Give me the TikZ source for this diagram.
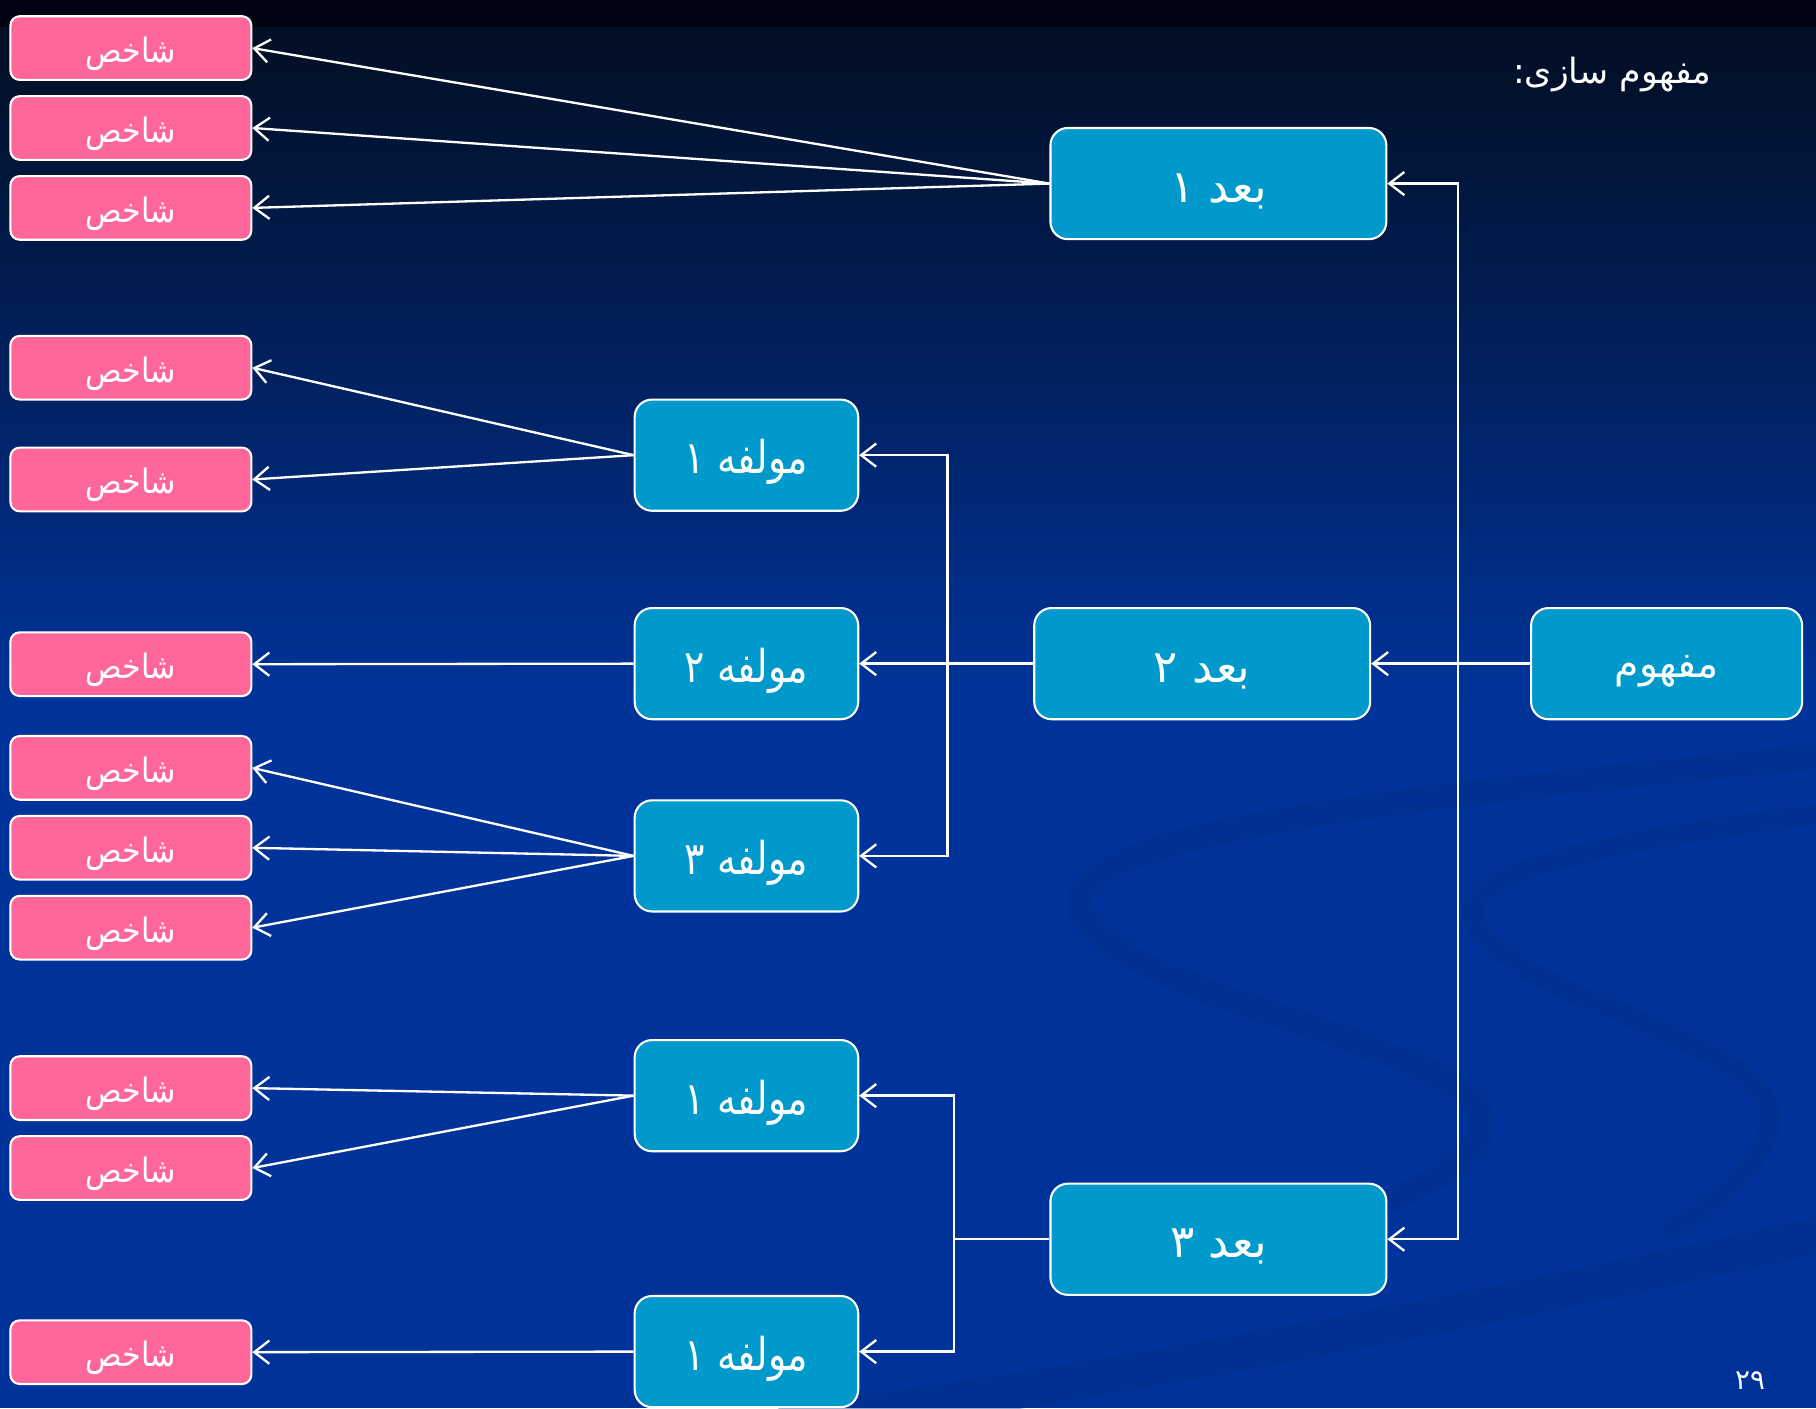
\documentclass[tikz,border=0pt]{standalone}
\usepackage{fontspec}
\newfontfamily\arabicfont[Script=Arabic]{DejaVu Sans}
\newfontfamily\arabicnarrow[Script=Arabic,FakeStretch=0.84]{DejaVu Sans}
\newfontfamily\arabicpink[Script=Arabic,FakeStretch=0.9]{DejaVu Sans}
\TeXXeTstate=1
\usetikzlibrary{arrows.meta,calc}
\definecolor{bgblue}{HTML}{003399}
\definecolor{bgtop}{HTML}{020E22}
\definecolor{bgstrip}{HTML}{000412}
\definecolor{swoosh}{HTML}{002C88}
\definecolor{pinkbox}{HTML}{FF6699}
\definecolor{bluebox}{HTML}{0099CC}
\newcommand\artxt[1]{{\arabicfont\beginR #1\endR}}
\newcommand\pinktxt[1]{{\arabicpink\beginR #1\endR}}
\newcommand\comptxt[1]{{\arabicnarrow\beginR #1\endR}}
\tikzset{
  pinkbox/.style={draw=white, line width=1.8pt, fill=pinkbox, rounded corners=8pt,
    minimum width=208pt, minimum height=55pt, inner sep=0pt, text=white,
    text height=25pt, text depth=0pt,
    font=\fontsize{29}{32}\selectfont},
  bluebox/.style={draw=white, line width=1.8pt, fill=bluebox, rounded corners=15pt,
    minimum height=96pt, inner sep=0pt, text=white,
    text height=32pt, text depth=0pt,
    font=\fontsize{39}{44}\selectfont},
  conn/.style={draw=white, line width=2pt},
  arr/.style={conn, -{Straight Barb[length=13pt,width=20pt]}},
}
\begin{document}
\begin{tikzpicture}[x=1pt,y=-1pt]
\useasboundingbox (0,0) rectangle (1568,1216);
% background
\fill[bgblue] (0,0) rectangle (1568,1216);
\shade[top color=bgtop, bottom color=bgblue] (0,22) rectangle (1568,600);
\fill[bgstrip] (0,0) rectangle (1568,23);
% swooshes
\begin{scope}[draw=swoosh, line cap=round, opacity=0.4]
\draw[line width=22pt] (1580,652) .. controls (1200,690) and (900,720) .. (935,790)
   .. controls (970,860) and (1250,900) .. (1278,960) .. controls (1300,1010) and (1150,1060) .. (1060,1085);
\draw[line width=18pt] (1580,702) .. controls (1350,730) and (1250,760) .. (1275,800)
   .. controls (1310,860) and (1520,900) .. (1528,960) .. controls (1532,1000) and (1480,1040) .. (1445,1060);
\draw[line width=32pt] (1590,1062) .. controls (1200,1150) and (900,1200) .. (680,1230);
\end{scope}
% title and page number
\node[text=white, font=\fontsize{30}{36}\selectfont] (title) at (1392,64) {\artxt{مفهوم سازی:}};
\node[text=white, font=\fontsize{24}{26}\selectfont] (page) at (1511,1192) {\arabicfont ۲۹};
% pink boxes
\node[pinkbox] (p1) at (113,41.5) {\pinktxt{شاخص}};
\node[pinkbox] (p2) at (113,110.5) {\pinktxt{شاخص}};
\node[pinkbox] (p3) at (113,179.5) {\pinktxt{شاخص}};
\node[pinkbox] (p4) at (113,317.5) {\pinktxt{شاخص}};
\node[pinkbox] (p5) at (113,414) {\pinktxt{شاخص}};
\node[pinkbox] (p6) at (113,573.5) {\pinktxt{شاخص}};
\node[pinkbox] (p7) at (113,663) {\pinktxt{شاخص}};
\node[pinkbox] (p8) at (113,732) {\pinktxt{شاخص}};
\node[pinkbox] (p9) at (113,801) {\pinktxt{شاخص}};
\node[pinkbox] (p10) at (113,939.5) {\pinktxt{شاخص}};
\node[pinkbox] (p11) at (113,1008.5) {\pinktxt{شاخص}};
\node[pinkbox] (p12) at (113,1167.5) {\pinktxt{شاخص}};
% blue boxes
\node[bluebox, minimum width=290pt] (b1) at (1052,158.5) {\artxt{بعد ۱}};
\node[bluebox, minimum width=290pt] (b2) at (1038,573) {\artxt{بعد ۲}};
\node[bluebox, minimum width=290pt] (b3) at (1052,1070) {\artxt{بعد ۳}};
\node[bluebox, minimum width=234pt, font=\fontsize{34}{40}\selectfont, text height=24pt] (c) at (1439,573) {\artxt{مفهوم}};
\node[bluebox, minimum width=193pt] (m1) at (644.5,393) {\comptxt{مولفه ۱}};
\node[bluebox, minimum width=193pt] (m2) at (644.5,573) {\comptxt{مولفه ۲}};
\node[bluebox, minimum width=193pt] (m3) at (644.5,739) {\comptxt{مولفه ۳}};
\node[bluebox, minimum width=193pt] (m4) at (644.5,946) {\comptxt{مولفه ۱}};
\node[bluebox, minimum width=193pt] (m5) at (644.5,1167) {\comptxt{مولفه ۱}};
% junctions
\coordinate (j1) at (1259,573);
\coordinate (j2) at (818,573);
\coordinate (j3) at (824,1070);
% concept -> dimensions
\draw[conn] (c.west) -- (j1);
\draw[arr] (j1) -- (b2.east);
\draw[arr] (j1) |- (b1.east);
\draw[arr] (j1) |- (b3.east);
% dimension 2 -> components
\draw[conn] (b2.west) -- (j2);
\draw[arr] (j2) -- (m2.east);
\draw[arr] (j2) |- (m1.east);
\draw[arr] (j2) |- (m3.east);
% dimension 3 -> components
\draw[conn] (b3.west) -- (j3);
\draw[arr] (j3) |- (m4.east);
\draw[arr] (j3) |- (m5.east);
% dimension 1 -> indicators
\draw[arr] (b1.west) -- (p1.east);
\draw[arr] (b1.west) -- (p2.east);
\draw[arr] (b1.west) -- (p3.east);
% components -> indicators
\draw[arr] (m1.west) -- (p4.east);
\draw[arr] (m1.west) -- (p5.east);
\draw[arr] (m2.west) -- (p6.east);
\draw[arr] (m3.west) -- (p7.east);
\draw[arr] (m3.west) -- (p8.east);
\draw[arr] (m3.west) -- (p9.east);
\draw[arr] (m4.west) -- (p10.east);
\draw[arr] (m4.west) -- (p11.east);
\draw[arr] (m5.west) -- (p12.east);
\end{tikzpicture}
\end{document}
